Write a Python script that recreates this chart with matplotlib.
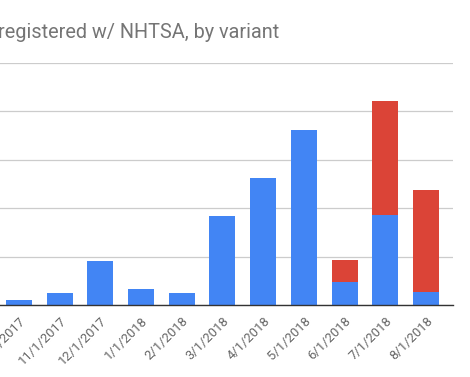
import matplotlib
matplotlib.use("Agg")
import matplotlib.pyplot as plt
import numpy as np

# monthly registrations, split by variant
months = ["10/1/2017", "11/1/2017", "12/1/2017", "1/1/2018", "2/1/2018",
          "3/1/2018", "4/1/2018", "5/1/2018", "6/1/2018", "7/1/2018", "8/1/2018"]
variant_a = [5, 12.5, 45.5, 16.5, 12.5, 92, 131, 180, 24, 93, 13.5]
variant_b = [0, 0, 0, 0, 0, 0, 0, 0, 22.5, 117, 105]

BLUE = "#4285f4"
RED = "#db4437"

plt.rcParams["font.family"] = ["Roboto", "DejaVu Sans"]

fig = plt.figure(figsize=(4.70, 3.77), dpi=100)
# chart is cropped on the left, so the axes start slightly off the figure
ax = fig.add_axes([-0.0168, 72 / 377, 0.9803, 242.5 / 377])

x = np.arange(len(months))
ax.bar(x, variant_a, width=0.64, color=BLUE, zorder=2)
ax.bar(x, variant_b, width=0.64, bottom=variant_a, color=RED, zorder=2)

ax.set_xlim(-0.66, 10.66)
ax.set_ylim(0, 250)
ax.set_yticks(np.arange(0, 251, 50))
ax.yaxis.grid(True, color="#cccccc", linewidth=0.9, zorder=0)
ax.tick_params(axis="y", left=False, labelleft=False)
ax.tick_params(axis="x", length=0, pad=7)
for side in ["top", "right", "left"]:
    ax.spines[side].set_visible(False)
ax.spines["bottom"].set_color("#333333")
ax.spines["bottom"].set_linewidth(1.0)
ax.spines["bottom"].set_zorder(3)

ax.set_xticks(x)
ax.set_xticklabels(months, rotation=45, ha="right", rotation_mode="anchor",
                   fontsize=9.4, color="#666666")

fig.text(-0.004, 1 - 37.7 / 377, "registered w/ NHTSA, by variant",
         fontsize=14.3, color="#757575", ha="left", va="baseline")

fig.savefig("out.png", dpi=100)
